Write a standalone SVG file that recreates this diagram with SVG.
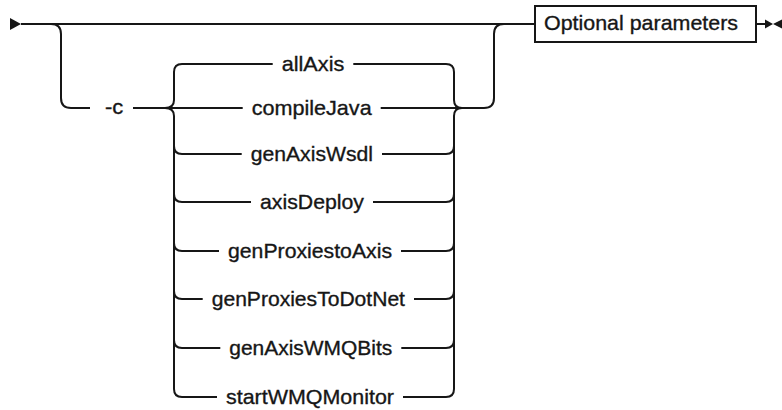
<svg xmlns="http://www.w3.org/2000/svg" width="782" height="410" viewBox="0 0 782 410">
<style>
  .ln { fill: none; stroke: #161616; stroke-width: 2; }
  .t { font-family: "Liberation Sans", Arial, sans-serif; font-size: 21px; fill: #161616; stroke: #161616; stroke-width: 0.35; }
  .ar { fill: #161616; stroke: none; }
</style>
<rect x="0" y="0" width="782" height="410" fill="#ffffff"/>
<g id="connectors">
  <path class="ln" d="M 21 24 H 535"/>
  <path class="ln" d="M 51 24 Q 61 24 61 34 V 98 Q 61 108 71 108 H 90"/>
  <path class="ln" d="M 133 108 H 242.7"/>
  <path class="ln" d="M 165 108 Q 174 108 174 100 V 72 Q 174 64 182 64 H 272.7"/>
  <path class="ln" d="M 165 108 Q 174 108 174 116 V 389 Q 174 397 182 397 H 217"/>
  <path class="ln" d="M 174 146 Q 174 154 182 154 H 241.7"/>
  <path class="ln" d="M 174 194 Q 174 202 182 202 H 251"/>
  <path class="ln" d="M 174 243 Q 174 251 182 251 H 219"/>
  <path class="ln" d="M 174 291 Q 174 299 182 299 H 202.7"/>
  <path class="ln" d="M 174 340 Q 174 348 182 348 H 220.3"/>
  <path class="ln" d="M 353.3 64 H 446 Q 454 64 454 72 V 100 Q 454 108 462 108"/>
  <path class="ln" d="M 380.7 108 H 484 Q 494 108 494 98 V 34 Q 494 24 504 24"/>
  <path class="ln" d="M 403 397 H 446 Q 454 397 454 389 V 116 Q 454 108 462 108"/>
  <path class="ln" d="M 382 154 H 446 Q 454 154 454 146"/>
  <path class="ln" d="M 373 202 H 446 Q 454 202 454 194"/>
  <path class="ln" d="M 401 251 H 446 Q 454 251 454 243"/>
  <path class="ln" d="M 414 299 H 446 Q 454 299 454 291"/>
  <path class="ln" d="M 401.3 348 H 446 Q 454 348 454 340"/>
  <path class="ln" d="M 756 24 H 765"/>
  <polygon class="ar" points="10,18 21,24 10,30"/>
  <polygon class="ar" points="765,19.5 773,24 765,28.5"/>
  <polygon class="ar" points="782,19.5 773,24 782,28.5"/>
</g>
<g id="node-c">
  <text class="t" x="105" y="114" textLength="18.3" lengthAdjust="spacingAndGlyphs">-c</text>
</g>
<g id="node-allAxis">
  <text class="t" x="281.7" y="71" textLength="62.6" lengthAdjust="spacingAndGlyphs">allAxis</text>
</g>
<g id="node-compileJava">
  <text class="t" x="251.7" y="115" textLength="120" lengthAdjust="spacingAndGlyphs">compileJava</text>
</g>
<g id="node-genAxisWsdl">
  <text class="t" x="250.7" y="161" textLength="122.3" lengthAdjust="spacingAndGlyphs">genAxisWsdl</text>
</g>
<g id="node-axisDeploy">
  <text class="t" x="260" y="209" textLength="104" lengthAdjust="spacingAndGlyphs">axisDeploy</text>
</g>
<g id="node-genProxiestoAxis">
  <text class="t" x="228" y="258" textLength="164" lengthAdjust="spacingAndGlyphs">genProxiestoAxis</text>
</g>
<g id="node-genProxiesToDotNet">
  <text class="t" x="211.7" y="306" textLength="193.3" lengthAdjust="spacingAndGlyphs">genProxiesToDotNet</text>
</g>
<g id="node-genAxisWMQBits">
  <text class="t" x="229.3" y="355" textLength="163" lengthAdjust="spacingAndGlyphs">genAxisWMQBits</text>
</g>
<g id="node-startWMQMonitor">
  <text class="t" x="226" y="404" textLength="168" lengthAdjust="spacingAndGlyphs">startWMQMonitor</text>
</g>
<g id="node-optional">
  <rect class="ln" x="535" y="6" width="221" height="36"/>
  <text class="t" x="544" y="30" textLength="194" lengthAdjust="spacingAndGlyphs">Optional parameters</text>
</g>
</svg>
